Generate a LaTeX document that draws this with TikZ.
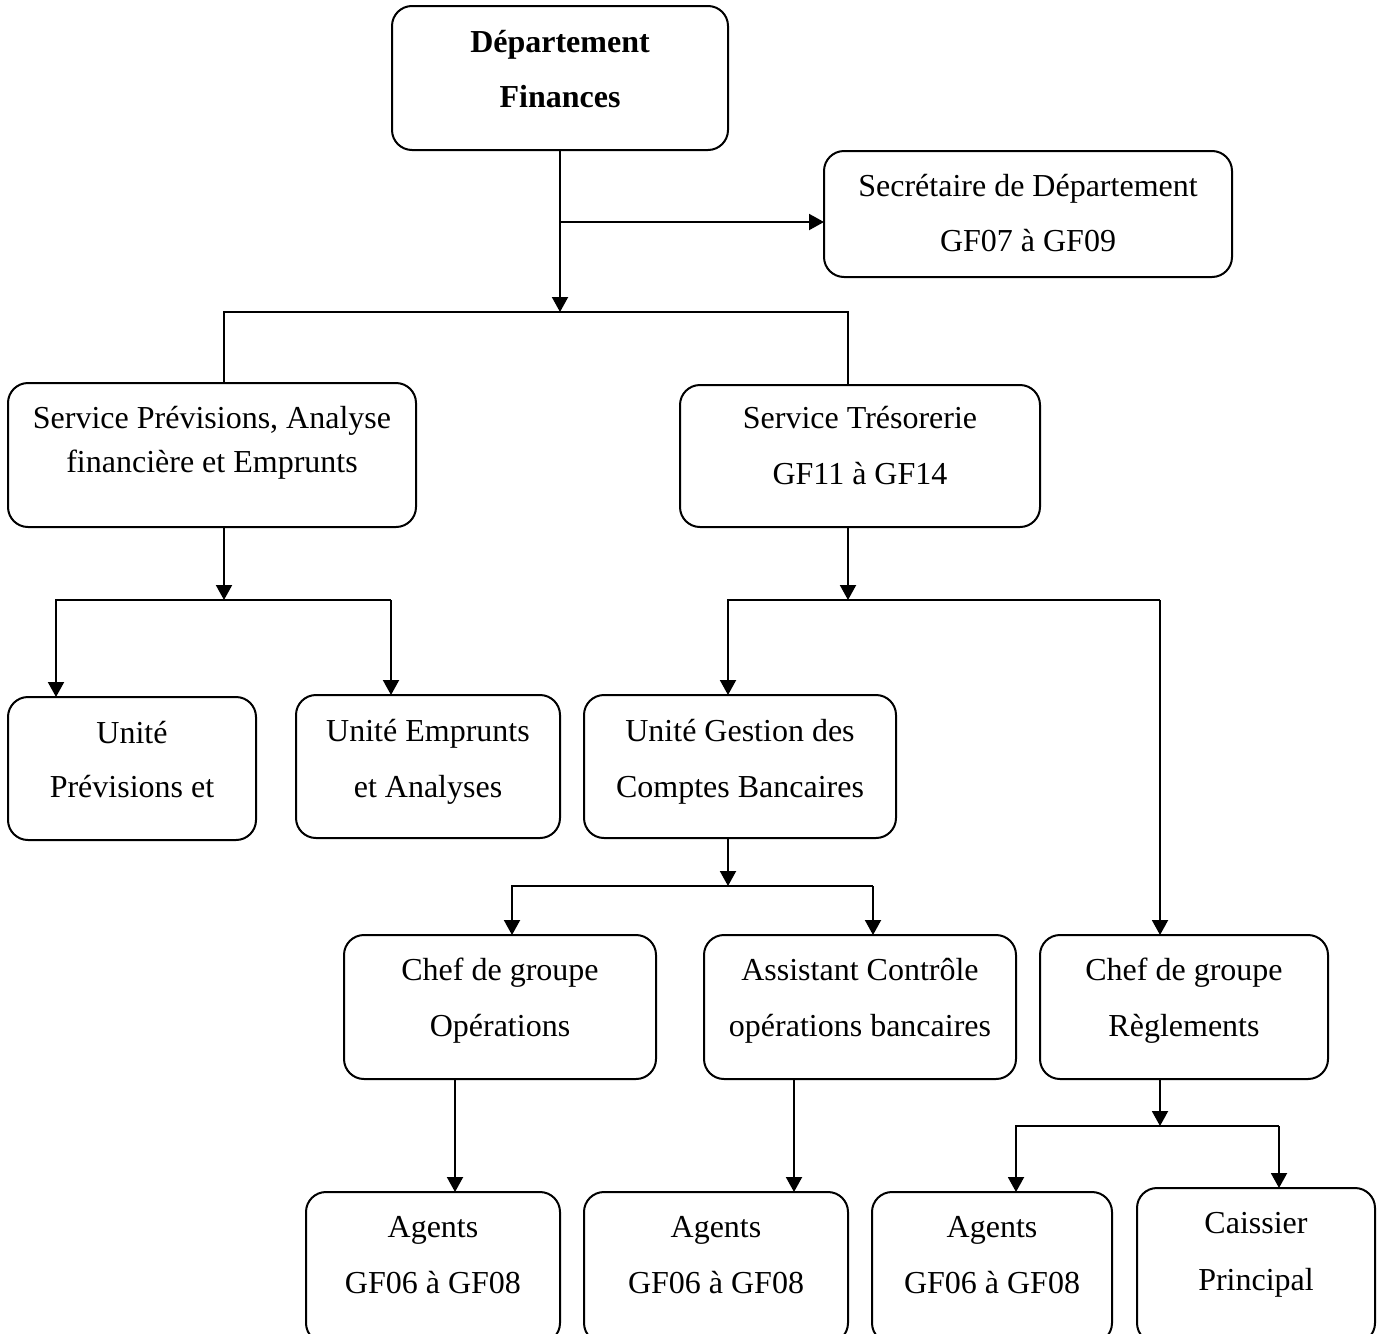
\documentclass[tikz,border=0pt]{standalone}
\usepackage{fontspec}
\setmainfont{Liberation Serif}
\usetikzlibrary{arrows.meta}

\tikzset{
  box/.style={draw, line width=1pt, rounded corners=10pt, inner sep=0pt, outer sep=0pt},
  txt/.style={inner sep=0pt, anchor=base, font=\fontsize{16}{19}\selectfont},
  link/.style={line width=1pt, line join=miter},
  arr/.style={link, -{Triangle[length=7.5pt, width=8pt]}}
}

% box given by its corners: name, x1, y1, x2, y2 (pixel-like units)
\newcommand\orgbox[5]{%
  \node[box, minimum width={(#4-#2)*0.5pt}, minimum height={(#5-#3)*0.5pt}]
    (#1) at ({(#2+#4)/2},{(#3+#5)/2}) {};}

\begin{document}
\begin{tikzpicture}[x=0.5pt, y=-0.5pt]
\useasboundingbox (0,0) rectangle (1385,1333);
\clip (0,0) rectangle (1385,1333);

% boxes
\orgbox{df}{392}{6}{728}{150}
\orgbox{sec}{824}{151}{1232}{277}
\orgbox{sp}{8}{383}{416}{527}
\orgbox{st}{680}{385}{1040}{527}
\orgbox{up}{8}{697}{256}{840}
\orgbox{ue}{296}{695}{560}{838}
\orgbox{ug}{584}{695}{896}{838}
\orgbox{co}{344}{935}{656}{1079}
\orgbox{ac}{704}{935}{1016}{1079}
\orgbox{cr}{1040}{935}{1328}{1079}
\orgbox{a1}{306}{1192}{560}{1343}
\orgbox{a2}{584}{1192}{848}{1343}
\orgbox{a3}{872}{1192}{1112}{1343}
\orgbox{ca}{1137}{1188}{1375}{1343}

% texts
\node[txt] (dfA) at (560,52) {\textbf{Département}};
\node[txt] (dfB) at (560,107) {\textbf{Finances}};
\node[txt] (secA) at (1028,196) {Secrétaire de Département};
\node[txt] (secB) at (1028,251) {GF07 à GF09};
\node[txt] (spA) at (212,428) {Service Prévisions, Analyse};
\node[txt] (spB) at (212,472) {financière et Emprunts};
\node[txt] (stA) at (860,428) {Service Trésorerie};
\node[txt] (stB) at (860,484) {GF11 à GF14};
\node[txt] (upA) at (132,743) {Unité};
\node[txt] (upB) at (132,797) {Prévisions et};
\node[txt] (ueA) at (428,741) {Unité Emprunts};
\node[txt] (ueB) at (428,797) {et Analyses};
\node[txt] (ugA) at (740,741) {Unité Gestion des};
\node[txt] (ugB) at (740,797) {Comptes Bancaires};
\node[txt] (coA) at (500,980) {Chef de groupe};
\node[txt] (coB) at (500,1036) {Opérations};
\node[txt] (acA) at (860,980) {Assistant Contrôle};
\node[txt] (acB) at (860,1036) {opérations bancaires};
\node[txt] (crA) at (1184,980) {Chef de groupe};
\node[txt] (crB) at (1184,1036) {Règlements};
\node[txt] (a1A) at (433,1237) {Agents};
\node[txt] (a1B) at (433,1293) {GF06 à GF08};
\node[txt] (a2A) at (716,1237) {Agents};
\node[txt] (a2B) at (716,1293) {GF06 à GF08};
\node[txt] (a3A) at (992,1237) {Agents};
\node[txt] (a3B) at (992,1293) {GF06 à GF08};
\node[txt] (caA) at (1256,1233) {Caissier};
\node[txt] (caB) at (1256,1290) {Principal};

% junction points
\coordinate (j0) at (560,222);
\coordinate (tj) at (560,312);
\coordinate (bL) at (224,312);
\coordinate (bR) at (848,312);
\coordinate (c1) at (224,600);
\coordinate (c1L) at (56,600);
\coordinate (c1R) at (391,600);
\coordinate (c2) at (848,600);
\coordinate (c2L) at (728,600);
\coordinate (c2R) at (1160,600);
\coordinate (c3) at (728,886);
\coordinate (c3L) at (512,886);
\coordinate (c3R) at (873,886);
\coordinate (s1) at (455,0);
\coordinate (s2) at (794,0);
\coordinate (c4) at (1160,1126);
\coordinate (c4L) at (1016,1126);
\coordinate (c4R) at (1279,1126);

% department level
\draw[arr] (df.south) -- (tj);
\draw[arr] (j0) -- (sec.west |- j0);
\draw[link] (bL |- sp.north) -- (bL) -- (bR) -- (bR |- st.north);

% service Prévisions
\draw[arr] (bL |- sp.south) -- (c1);
\draw[arr] (c1R) -- (c1L) -- (c1L |- up.north);
\draw[arr] (c1R) -- (c1R |- ue.north);

% service Trésorerie
\draw[arr] (bR |- st.south) -- (c2);
\draw[arr] (c2R) -- (c2L) -- (c2L |- ug.north);
\draw[arr] (c2R) -- (c2R |- cr.north);

% unité Gestion des Comptes Bancaires
\draw[arr] (c2L |- ug.south) -- (c3);
\draw[arr] (c3R) -- (c3L) -- (c3L |- co.north);
\draw[arr] (c3R) -- (c3R |- ac.north);

% group level
\draw[arr] (s1 |- co.south) -- (s1 |- a1.north);
\draw[arr] (s2 |- ac.south) -- (s2 |- a2.north);
\draw[arr] (c2R |- cr.south) -- (c4);
\draw[arr] (c4R) -- (c4L) -- (c4L |- a3.north);
\draw[arr] (c4R) -- (c4R |- ca.north);
\end{tikzpicture}
\end{document}
